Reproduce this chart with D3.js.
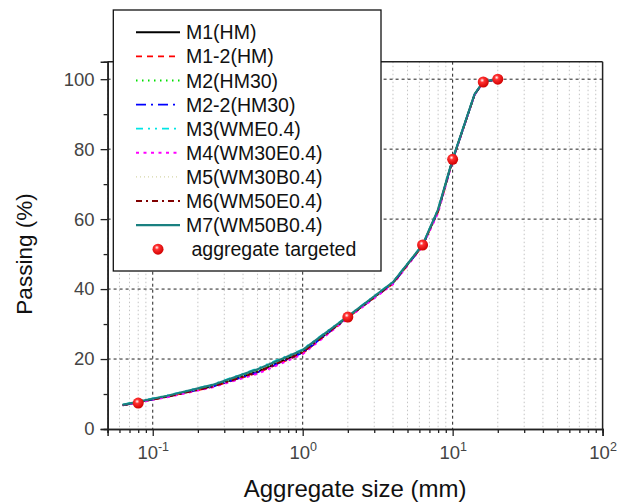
<!DOCTYPE html>
<html>
<head>
<meta charset="utf-8">
<script src="https://cdn.jsdelivr.net/npm/d3@7"></script>
<style>
  body { margin: 0; background: #fff; }
  svg { font-family: "Liberation Sans", Arial, sans-serif; }
</style>
</head>
<body>
<svg id="chart" width="618" height="503"></svg>
<script>
// sieve sizes (mm) used by every mix curve
var sizes = [0.063, 0.125, 0.25, 0.5, 1, 2, 4, 6.3, 8, 10, 14, 16, 20];

var seriesNames = ["M1(HM)", "M1-2(HM)", "M2(HM30)", "M2-2(HM30)", "M3(WME0.4)",
                   "M4(WM30E0.4)", "M5(WM30B0.4)", "M6(WM50E0.4)", "M7(WM50B0.4)"];

var m1   = [6.8, 9.3, 12.2, 16.4, 22.0, 32.0, 41.8, 52.5, 62.5, 77.0, 95.6, 99.2, 100];
var m1_2 = [6.8, 9.2, 12.0, 16.0, 21.6, 31.8, 41.5, 52.3, 62.0, 76.8, 95.5, 99.2, 100];
var m2   = [6.9, 9.4, 12.4, 16.8, 22.4, 32.1, 41.9, 52.6, 62.7, 77.1, 95.7, 99.3, 100];
var m2_2 = [6.8, 9.3, 12.1, 16.2, 21.8, 31.9, 41.6, 52.4, 62.3, 76.9, 95.6, 99.2, 100];
var m3   = [7.0, 9.6, 12.7, 17.3, 22.8, 32.3, 42.1, 52.7, 62.9, 77.2, 95.8, 99.3, 100];
var m4   = [6.8, 9.1, 11.9, 15.8, 21.4, 31.7, 41.4, 52.2, 61.8, 76.7, 95.5, 99.2, 100];
var m5   = [6.9, 9.4, 12.3, 16.6, 22.2, 32.0, 41.8, 52.5, 62.5, 77.0, 95.6, 99.2, 100];
var m6   = [6.8, 9.2, 12.1, 16.3, 21.9, 31.9, 41.7, 52.4, 62.4, 76.9, 95.6, 99.2, 100];
var m7   = [6.9, 9.5, 12.6, 17.1, 22.6, 32.2, 42.0, 52.6, 62.8, 77.1, 95.7, 99.3, 100];
var seriesValues = [m1, m1_2, m2, m2_2, m3, m4, m5, m6, m7];

// aggregate targeted points
var targetSizes = [0.08, 2, 6.3, 10, 16, 20];
var targetPassing = [7.4, 32.0, 52.6, 77.1, 99.2, 100];

var xMajorTicks = [0.1, 1, 10, 100];
var xTickExp = ["-1", "0", "1", "2"];
var yMajorTicks = [0, 20, 40, 60, 80, 100];
var yMinorTicks = [10, 30, 50, 70, 90];

var colors = ["#000000", "#ff0000", "#00e000", "#0000ff", "#00e5e5", "#ff00ff", "#d6d6a8", "#800000", "#1a8080"];
var dashes = ["none", "6,5", "1.5,4.5", "10,5,2,5", "7,5,2,5,2,5", "3,4.5", "1,3", "6,4,2,4", "none"];
var widths = [2, 1.6, 1.8, 1.8, 1.8, 2, 1.3, 1.8, 2.2];

var svg = d3.select("#chart");
var pLeft = 107.6, pRight = 602.6, pTop = 61.7, pBottom = 429;

var x = d3.scaleLog().domain([0.05, 100]).range([pLeft, pRight]);
var y = d3.scaleLinear().domain([0, 105]).range([pBottom, pTop]);

// minor x positions: 2..9 within each decade
var xMinor = [];
[0.01, 0.1, 1, 10].forEach(function(d) {
  for (var k = 2; k <= 9; k++) {
    var v = +(d * k).toPrecision(3);
    if (v >= 0.05 && v < 100) xMinor.push(v);
  }
});

// GRID
var grid = svg.append("g");
grid.selectAll(".vmin").data(xMinor).enter().append("line")
  .attr("x1", function(d) { return x(d); }).attr("x2", function(d) { return x(d); })
  .attr("y1", pTop).attr("y2", pBottom)
  .attr("stroke", "#c4c4c4").attr("stroke-width", 1).attr("stroke-dasharray", "1.5,2.5");
grid.selectAll(".vmaj").data([0.1, 1, 10]).enter().append("line")
  .attr("x1", function(d) { return x(d); }).attr("x2", function(d) { return x(d); })
  .attr("y1", pTop).attr("y2", pBottom)
  .attr("stroke", "#222").attr("stroke-width", 1).attr("stroke-dasharray", "3,3");
grid.selectAll(".hmaj").data([20, 40, 60, 80, 100]).enter().append("line")
  .attr("x1", pLeft).attr("x2", pRight)
  .attr("y1", function(d) { return y(d); }).attr("y2", function(d) { return y(d); })
  .attr("stroke", "#222").attr("stroke-width", 1).attr("stroke-dasharray", "3,3");

// CURVES
var line = d3.line()
  .x(function(d) { return x(d[0]); })
  .y(function(d) { return y(d[1]); });

seriesValues.forEach(function(vals, i) {
  svg.append("path")
    .datum(sizes.map(function(s, j) { return [s, vals[j]]; }))
    .attr("d", line)
    .attr("fill", "none")
    .attr("stroke", colors[i])
    .attr("stroke-width", widths[i])
    .attr("stroke-dasharray", dashes[i]);
});

// shiny red ball
var defs = svg.append("defs");
var grad = defs.append("radialGradient").attr("id", "ball")
  .attr("cx", "40%").attr("cy", "35%").attr("r", "65%");
grad.append("stop").attr("offset", "0%").attr("stop-color", "#ffffff");
grad.append("stop").attr("offset", "30%").attr("stop-color", "#ff3030");
grad.append("stop").attr("offset", "100%").attr("stop-color", "#d00000");

svg.append("g").selectAll("circle")
  .data(targetSizes.map(function(s, j) { return [s, targetPassing[j]]; }))
  .enter().append("circle")
  .attr("cx", function(d) { return x(d[0]); })
  .attr("cy", function(d) { return y(d[1]); })
  .attr("r", 5.5)
  .attr("fill", "url(#ball)");

// AXES
var xAxis = svg.append("g").attr("transform", "translate(0," + pBottom + ")")
  .call(d3.axisBottom(x).tickValues(xMajorTicks).tickSize(7).tickPadding(6).tickFormat(""));
svg.append("g").attr("transform", "translate(0," + pBottom + ")")
  .call(d3.axisBottom(x).tickValues(xMinor).tickSize(4).tickFormat(""));

xAxis.selectAll(".tick").append("text")
  .attr("y", 30)
  .attr("fill", "#444")
  .attr("text-anchor", "middle")
  .style("font-size", "18.5px")
  .each(function(d, i) {
    var t = d3.select(this);
    t.append("tspan").text("10");
    t.append("tspan").attr("dy", -8).style("font-size", "12.5px").text(xTickExp[i]);
  });

svg.append("g").attr("transform", "translate(" + pLeft + ",0)")
  .call(d3.axisLeft(y).tickValues(yMajorTicks).tickSize(7).tickPadding(6))
  .selectAll("text").attr("fill", "#444").style("font-size", "18.5px")
  .attr("font-family", "Liberation Sans, Arial, sans-serif");
svg.append("g").attr("transform", "translate(" + pLeft + ",0)")
  .call(d3.axisLeft(y).tickValues(yMinorTicks).tickSize(4).tickFormat(""));

svg.selectAll(".domain").attr("stroke", "#222").attr("stroke-width", 1.5);
svg.selectAll(".tick line").attr("stroke", "#222").attr("stroke-width", 1.3);

// frame top / right
svg.append("line").attr("x1", pLeft).attr("x2", pRight).attr("y1", pTop).attr("y2", pTop)
  .attr("stroke", "#222").attr("stroke-width", 1.5);
svg.append("line").attr("x1", pRight).attr("x2", pRight).attr("y1", pTop).attr("y2", pBottom)
  .attr("stroke", "#222").attr("stroke-width", 1.5);

// axis titles
svg.append("text")
  .attr("x", (pLeft + pRight) / 2).attr("y", 497)
  .attr("text-anchor", "middle").style("font-size", "24px").attr("fill", "#111")
  .text("Aggregate size (mm)");
svg.append("text")
  .attr("transform", "translate(32,254) rotate(-90)")
  .attr("text-anchor", "middle").style("font-size", "22.5px").attr("fill", "#111")
  .text("Passing (%)");

// LEGEND
var legend = svg.append("g");
legend.append("rect")
  .attr("x", 113.3).attr("y", 10).attr("width", 267.7).attr("height", 261)
  .attr("fill", "#fff").attr("stroke", "#111").attr("stroke-width", 1.3);

var rowY = function(i) { return 32.3 + i * 24.1; };
seriesNames.forEach(function(name, i) {
  legend.append("line")
    .attr("x1", 136).attr("x2", 180)
    .attr("y1", rowY(i)).attr("y2", rowY(i))
    .attr("stroke", colors[i]).attr("stroke-width", widths[i])
    .attr("stroke-dasharray", dashes[i]);
  legend.append("text")
    .attr("x", 186).attr("y", rowY(i)).attr("dy", "0.36em")
    .style("font-size", "19.5px").attr("fill", "#111")
    .text(name);
});
legend.append("circle")
  .attr("cx", 158).attr("cy", rowY(9)).attr("r", 5.5).attr("fill", "url(#ball)");
legend.append("text")
  .attr("x", 191.5).attr("y", rowY(9)).attr("dy", "0.36em")
  .style("font-size", "19.5px").attr("fill", "#111")
  .text("aggregate targeted");
</script>
</body>
</html>
